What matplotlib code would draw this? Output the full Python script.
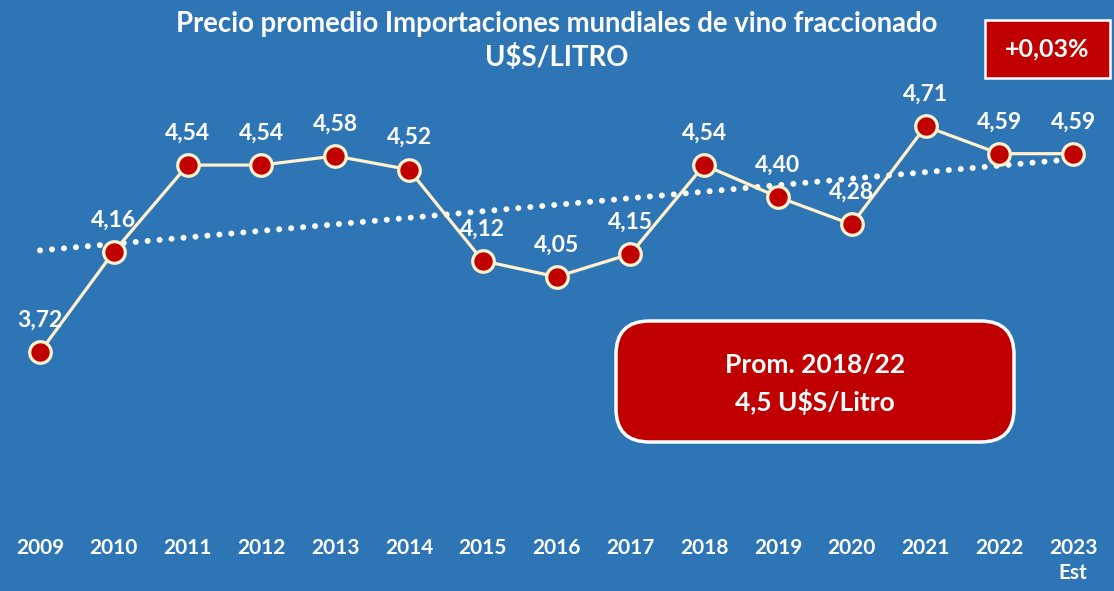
import numpy as np
import matplotlib
matplotlib.use("Agg")
import matplotlib.pyplot as plt
from matplotlib.patches import FancyBboxPatch, Rectangle

years = [2009, 2010, 2011, 2012, 2013, 2014, 2015, 2016, 2017, 2018, 2019, 2020, 2021, 2022, 2023]
year_labels = ["2009", "2010", "2011", "2012", "2013", "2014", "2015", "2016", "2017", "2018",
               "2019", "2020", "2021", "2022", "2023\nEst"]
prices = [3.72, 4.16, 4.54, 4.54, 4.58, 4.52, 4.12, 4.05, 4.15, 4.54, 4.40, 4.28, 4.71, 4.59, 4.59]

BG = "#2E75B6"
RED = "#C00000"
CREAM = "#FFF2CC"
plt.rcParams["font.family"] = ["Lato", "DejaVu Sans"]

fig = plt.figure(figsize=(11.14, 5.91), dpi=100, facecolor=BG)
ax = fig.add_axes([0, 0, 1, 1])
ax.set_facecolor(BG)
ax.set_xlim(2008.458, 2023.553)
ax.set_ylim(2.672, 5.264)
ax.axis("off")

# linear trend
coef = np.polyfit(years, prices, 1)
trend = np.polyval(coef, years)
ax.plot(years, trend, color="white", lw=4.3, linestyle=(0, (0.01, 2.0)),
        dash_capstyle="round", zorder=2)

ax.plot(years, prices, color=CREAM, lw=2.3, zorder=3)
ax.plot(years, prices, "o", ms=15.5, mfc=RED, mec=CREAM, mew=2.3, zorder=4)

for x, y in zip(years, prices):
    ax.annotate(f"{y:.2f}".replace(".", ","), (x, y), xytext=(0, 23), textcoords="offset points",
                ha="center", va="center", color="white", fontsize=16.5, fontweight="bold")

for x, lab in zip(years, year_labels):
    ax.text(x, 0.09, lab, transform=ax.get_xaxis_transform(), ha="center", va="top",
            color="white", fontsize=15, fontweight="bold", linespacing=1.35)

fig.text(0.5, 0.96, "Precio promedio Importaciones mundiales de vino fraccionado",
         ha="center", va="center", color="white", fontsize=19.8, fontweight="bold")
fig.text(0.5, 0.902, "U$S/LITRO", ha="center", va="center", color="white",
         fontsize=19.8, fontweight="bold")

# growth badge
fig.patches.append(Rectangle((985 / 1114, 1 - 78 / 591), 125 / 1114, 58 / 591,
                             transform=fig.transFigure, facecolor=RED, edgecolor="white", lw=1.8))
fig.text(1047 / 1114, 1 - 49 / 591, "+0,03%", ha="center", va="center", color="white",
         fontsize=18, fontweight="bold")

# average box
fig.patches.append(FancyBboxPatch((616 / 1114, 1 - 442 / 591), 398 / 1114, 121 / 591,
                                  boxstyle="round,pad=0,rounding_size=0.03",
                                  mutation_aspect=1114 / 591,
                                  transform=fig.transFigure, facecolor=RED, edgecolor="white", lw=2.5))
fig.text(815 / 1114, 1 - 365 / 591, "Prom. 2018/22", ha="center", va="center", color="white",
         fontsize=19, fontweight="bold")
fig.text(815 / 1114, 1 - 402 / 591, "4,5 U$S/Litro", ha="center", va="center", color="white",
         fontsize=19, fontweight="bold")

fig.savefig("out.png", dpi=100, facecolor=BG)
